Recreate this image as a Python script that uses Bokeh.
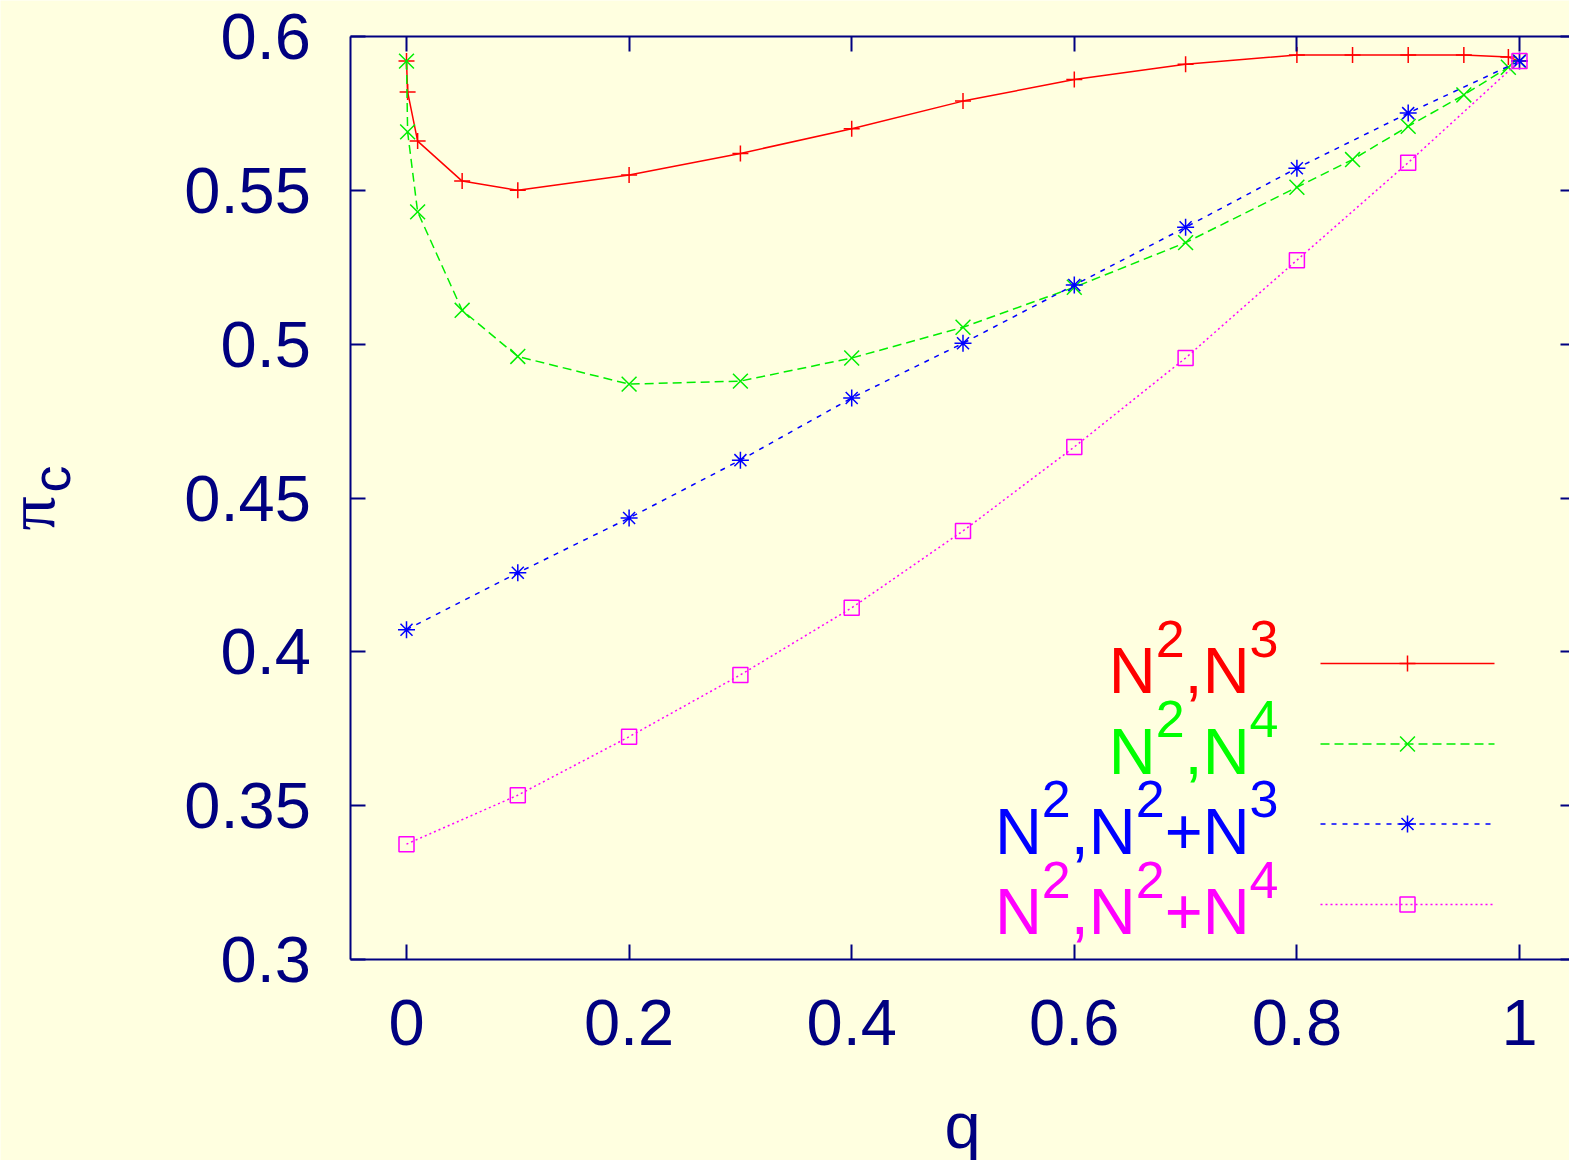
import math
from bokeh.plotting import figure
from bokeh.models import FixedTicker, LinearAxis, Range1d
from bokeh.core.properties import value
from bokeh.embed import file_html
from bokeh.resources import INLINE

# ---------------- data ----------------
q_red = [0.0, 0.001, 0.01, 0.05, 0.1, 0.2, 0.3, 0.4, 0.5, 0.6, 0.7, 0.8, 0.85, 0.9, 0.95, 0.99, 1.0]
pi_red = [0.592, 0.582, 0.566, 0.553, 0.550, 0.555, 0.562, 0.570, 0.579, 0.586, 0.591, 0.594, 0.594, 0.594, 0.594, 0.5933, 0.592]

q_green = [0.0, 0.001, 0.01, 0.05, 0.1, 0.2, 0.3, 0.4, 0.5, 0.6, 0.7, 0.8, 0.85, 0.9, 0.95, 0.99, 1.0]
pi_green = [0.592, 0.569, 0.543, 0.511, 0.496, 0.487, 0.488, 0.4955, 0.5055, 0.5185, 0.533, 0.551, 0.560, 0.5708, 0.581, 0.590, 0.592]

q_blue = [0.0, 0.1, 0.2, 0.3, 0.4, 0.5, 0.6, 0.7, 0.8, 0.9, 1.0]
pi_blue = [0.4072, 0.4257, 0.4435, 0.4623, 0.4825, 0.5003, 0.5192, 0.538, 0.5572, 0.5751, 0.592]

q_mag = [0.0, 0.1, 0.2, 0.3, 0.4, 0.5, 0.6, 0.7, 0.8, 0.9, 1.0]
pi_mag = [0.3375, 0.3534, 0.3724, 0.3925, 0.4143, 0.4393, 0.4666, 0.4955, 0.5273, 0.559, 0.592]

x_ticks = [0, 0.2, 0.4, 0.6, 0.8, 1.0]
x_tick_labels = ["0", "0.2", "0.4", "0.6", "0.8", "1"]
y_ticks = [0.3, 0.35, 0.4, 0.45, 0.5, 0.55, 0.6]
y_tick_labels = ["0.3", "0.35", "0.4", "0.45", "0.5", "0.55", "0.6"]

x_label = "q"
y_label_main = "π"
y_label_sub = "c"

# legend labels: list of (text, is_superscript)
legend_labels = [
    [("N", False), ("2", True), (",N", False), ("3", True)],
    [("N", False), ("2", True), (",N", False), ("4", True)],
    [("N", False), ("2", True), (",N", False), ("2", True), ("+N", False), ("3", True)],
    [("N", False), ("2", True), (",N", False), ("2", True), ("+N", False), ("4", True)],
]

# ---------------- style ----------------
BG = "#ffffe0"
AX = "#000080"
FONT = "Liberation Sans"
F_MAIN = 65
F_SUP = 52
BASE_FIX = 22   # px correction for alphabetic baseline placement

W, H = 1569, 1160
TOP, BOTTOM = 36, 959
X0, X1 = -0.05, 1.05     # plot box
Y0, Y1 = 0.3, 0.6

# page pixel -> data helpers, for layout positions only
XS = 1113.0
def dx(px):
    return (px - 406) / XS
def dy(py):
    return Y1 - (py - TOP) / ((BOTTOM - TOP) / (Y1 - Y0))

# the frame covers the whole page; axes are pinned at the plot box edges
p = figure(width=W, height=H, output_backend="svg", toolbar_location=None,
           x_range=Range1d(dx(0), dx(W)), y_range=Range1d(dy(H), dy(0)),
           min_border_left=0, min_border_right=0, min_border_top=0,
           min_border_bottom=0, x_axis_type=None, y_axis_type=None)
p.title.visible = False
p.background_fill_color = BG
p.border_fill_color = BG
p.outline_line_color = None
p.xgrid.visible = False
p.ygrid.visible = False

def style_axis(ax, labels, standoff, tick_in, show_labels=True, line=True):
    ax.major_tick_in = tick_in
    ax.major_tick_out = 0
    ax.minor_tick_in = 0
    ax.minor_tick_out = 0
    ax.major_tick_line_color = AX
    ax.major_tick_line_width = 2
    ax.axis_line_color = AX if line else None
    ax.axis_line_width = 2
    ax.major_label_text_font = FONT
    ax.major_label_standoff = standoff
    if show_labels:
        ax.major_label_text_color = AX
        ax.major_label_text_font_size = f"{F_MAIN}px"
        ax.major_label_overrides = labels
    else:
        ax.major_label_text_color = None
        ax.major_label_text_font_size = "1px"

xb = LinearAxis(ticker=FixedTicker(ticks=x_ticks), fixed_location=Y0, bounds=(X0, X1))
style_axis(xb, dict(zip(x_ticks, x_tick_labels)), 40, 15)
p.add_layout(xb, "below")
xt = LinearAxis(ticker=FixedTicker(ticks=x_ticks), fixed_location=Y1, bounds=(X0, X1))
style_axis(xt, {}, 0, 15, show_labels=False)
p.add_layout(xt, "above")
yl = LinearAxis(ticker=FixedTicker(ticks=y_ticks), fixed_location=X0, bounds=(Y0, Y1))
style_axis(yl, dict(zip(y_ticks, y_tick_labels)), 40, 15)
p.add_layout(yl, "left")
yr = LinearAxis(ticker=FixedTicker(ticks=y_ticks), fixed_location=X1, bounds=(Y0, Y1))
style_axis(yr, {}, 0, 15, show_labels=False)
p.add_layout(yr, "right")

# ---------------- series ----------------
series = [
    (q_red, pi_red, "#ff0000", "#ff0000", "solid", "cross", 16),
    (q_green, pi_green, "#00ee00", "#00ff00", "9 5", "x", 21),
    (q_blue, pi_blue, "#0000ff", "#0000ff", "5 6", "asterisk", 17),
    (q_mag, pi_mag, "#ff00ff", "#ff00ff", "2 3", "square", 15),
]
for xs, ys, col, tcol, dash, mk, sz in series:
    p.line(xs, ys, line_color=col, line_width=1.5, line_dash=dash)
    p.scatter(xs, ys, marker=mk, size=sz, line_color=col, fill_color=None, line_width=1.5)

# ---------------- legend ----------------
ADV = {"N": 0.722, ",": 0.278, "+": 0.584, "2": 0.556, "3": 0.556, "4": 0.556}
TEXT_RIGHT = 1278
row_y = [663, 743.5, 823.5, 904]
for i, (xs, ys, col, tcol, dash, mk, sz) in enumerate(series):
    ly = row_y[i]
    p.line([dx(1320), dx(1494)], [dy(ly)] * 2, line_color=col, line_width=1.5, line_dash=dash)
    p.scatter([dx(1407)], [dy(ly)], marker=mk, size=sz, line_color=col, fill_color=None, line_width=1.5)
    segs = legend_labels[i]
    widths = [sum(ADV[c] for c in s) * (F_SUP if sup else F_MAIN) for s, sup in segs]
    xpos = TEXT_RIGHT - sum(widths)
    base = ly + 29 - BASE_FIX
    for (s, sup), w in zip(segs, widths):
        p.text([dx(xpos)], [dy(base - 32 if sup else base)], text=[s],
               text_font=value(FONT), text_font_size=f"{F_SUP if sup else F_MAIN}px",
               text_color=tcol, text_align="left", text_baseline="alphabetic")
        xpos += w

# ---------------- axis titles ----------------
p.text([dx(52 - BASE_FIX)], [dy(530)], text=[y_label_main], text_font=value("Liberation Serif"),
       text_font_size="68px", text_color=AX, angle=math.pi / 2,
       text_align="left", text_baseline="alphabetic")
p.text([dx(72 - BASE_FIX)], [dy(492)], text=[y_label_sub], text_font=value(FONT),
       text_font_size="54px", text_color=AX, angle=math.pi / 2,
       text_align="left", text_baseline="alphabetic")
p.text([dx(962)], [dy(1147 - BASE_FIX)], text=[x_label], text_font=value(FONT),
       text_font_size=f"{F_MAIN}px", text_color=AX,
       text_align="center", text_baseline="alphabetic")

open("out.html", "w").write(file_html(p, INLINE))
